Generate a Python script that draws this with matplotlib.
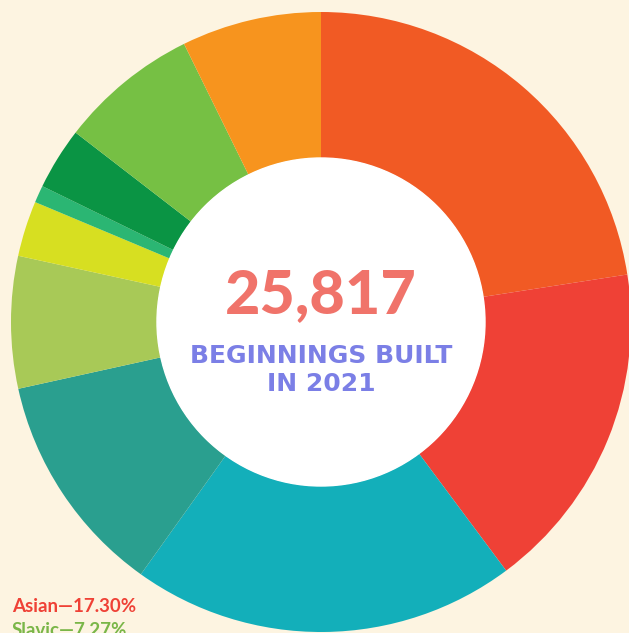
import matplotlib.pyplot as plt
from matplotlib.patches import Circle

# wedge shares (percent), clockwise from 12 o'clock
shares = [22.6, 17.30, 20.1, 11.7, 6.9, 2.9, 0.9, 3.25, 7.27, 7.3]
colors = ["#F15A24", "#EF4136", "#13AFBA", "#2A9F8F", "#A8C957",
          "#D7DF21", "#2BB673", "#0A9444", "#76C044", "#F7941E"]

# legend lines visible at the bottom
legend_labels = ["Asian", "Slavic"]
legend_values = [17.30, 7.27]
legend_colors = ["#EF4136", "#7AB648"]

total = "25,817"
subtitle = "BEGINNINGS BUILT\nIN 2021"

bg = "#FDF4E1"
fig = plt.figure(figsize=(6.29, 6.33), dpi=100, facecolor=bg)
ax = fig.add_axes([0, 0, 1, 1])
ax.set_facecolor(bg)

R = 310.0  # outer radius in px
inner = 164.0 / R
ax.pie(shares, colors=colors, startangle=90, counterclock=False,
       wedgeprops=dict(width=1 - inner, linewidth=0))
ax.add_patch(Circle((0, 0), inner, color="white", zorder=3))

# map data units to the picture (center at 321, 322 px)
ax.set_xlim(-321 / R, (629 - 321) / R)
ax.set_ylim(-(633 - 322) / R, 322 / R)
ax.set_aspect("auto")
ax.axis("off")

ax.text(0, (322 - 295) / R, total, ha="center", va="center", fontsize=44,
        fontweight="black", family="Lato", color="#F0736A", zorder=4)
ax.text(0, (322 - 370) / R, subtitle, ha="center", va="center", fontsize=18,
        fontweight="bold", family="DejaVu Sans", color="#7B7FE6",
        linespacing=1.2, zorder=4)

for i, (lab, val) in enumerate(zip(legend_labels, legend_values)):
    fig.text(12 / 629, 1 - (606 + 24 * i) / 633, f"{lab}\u2014{val:.2f}%",
             ha="left", va="center", fontsize=13.5, fontweight="bold",
             family="Lato", color=legend_colors[i])

fig.savefig("out.png", dpi=100, facecolor=bg)
